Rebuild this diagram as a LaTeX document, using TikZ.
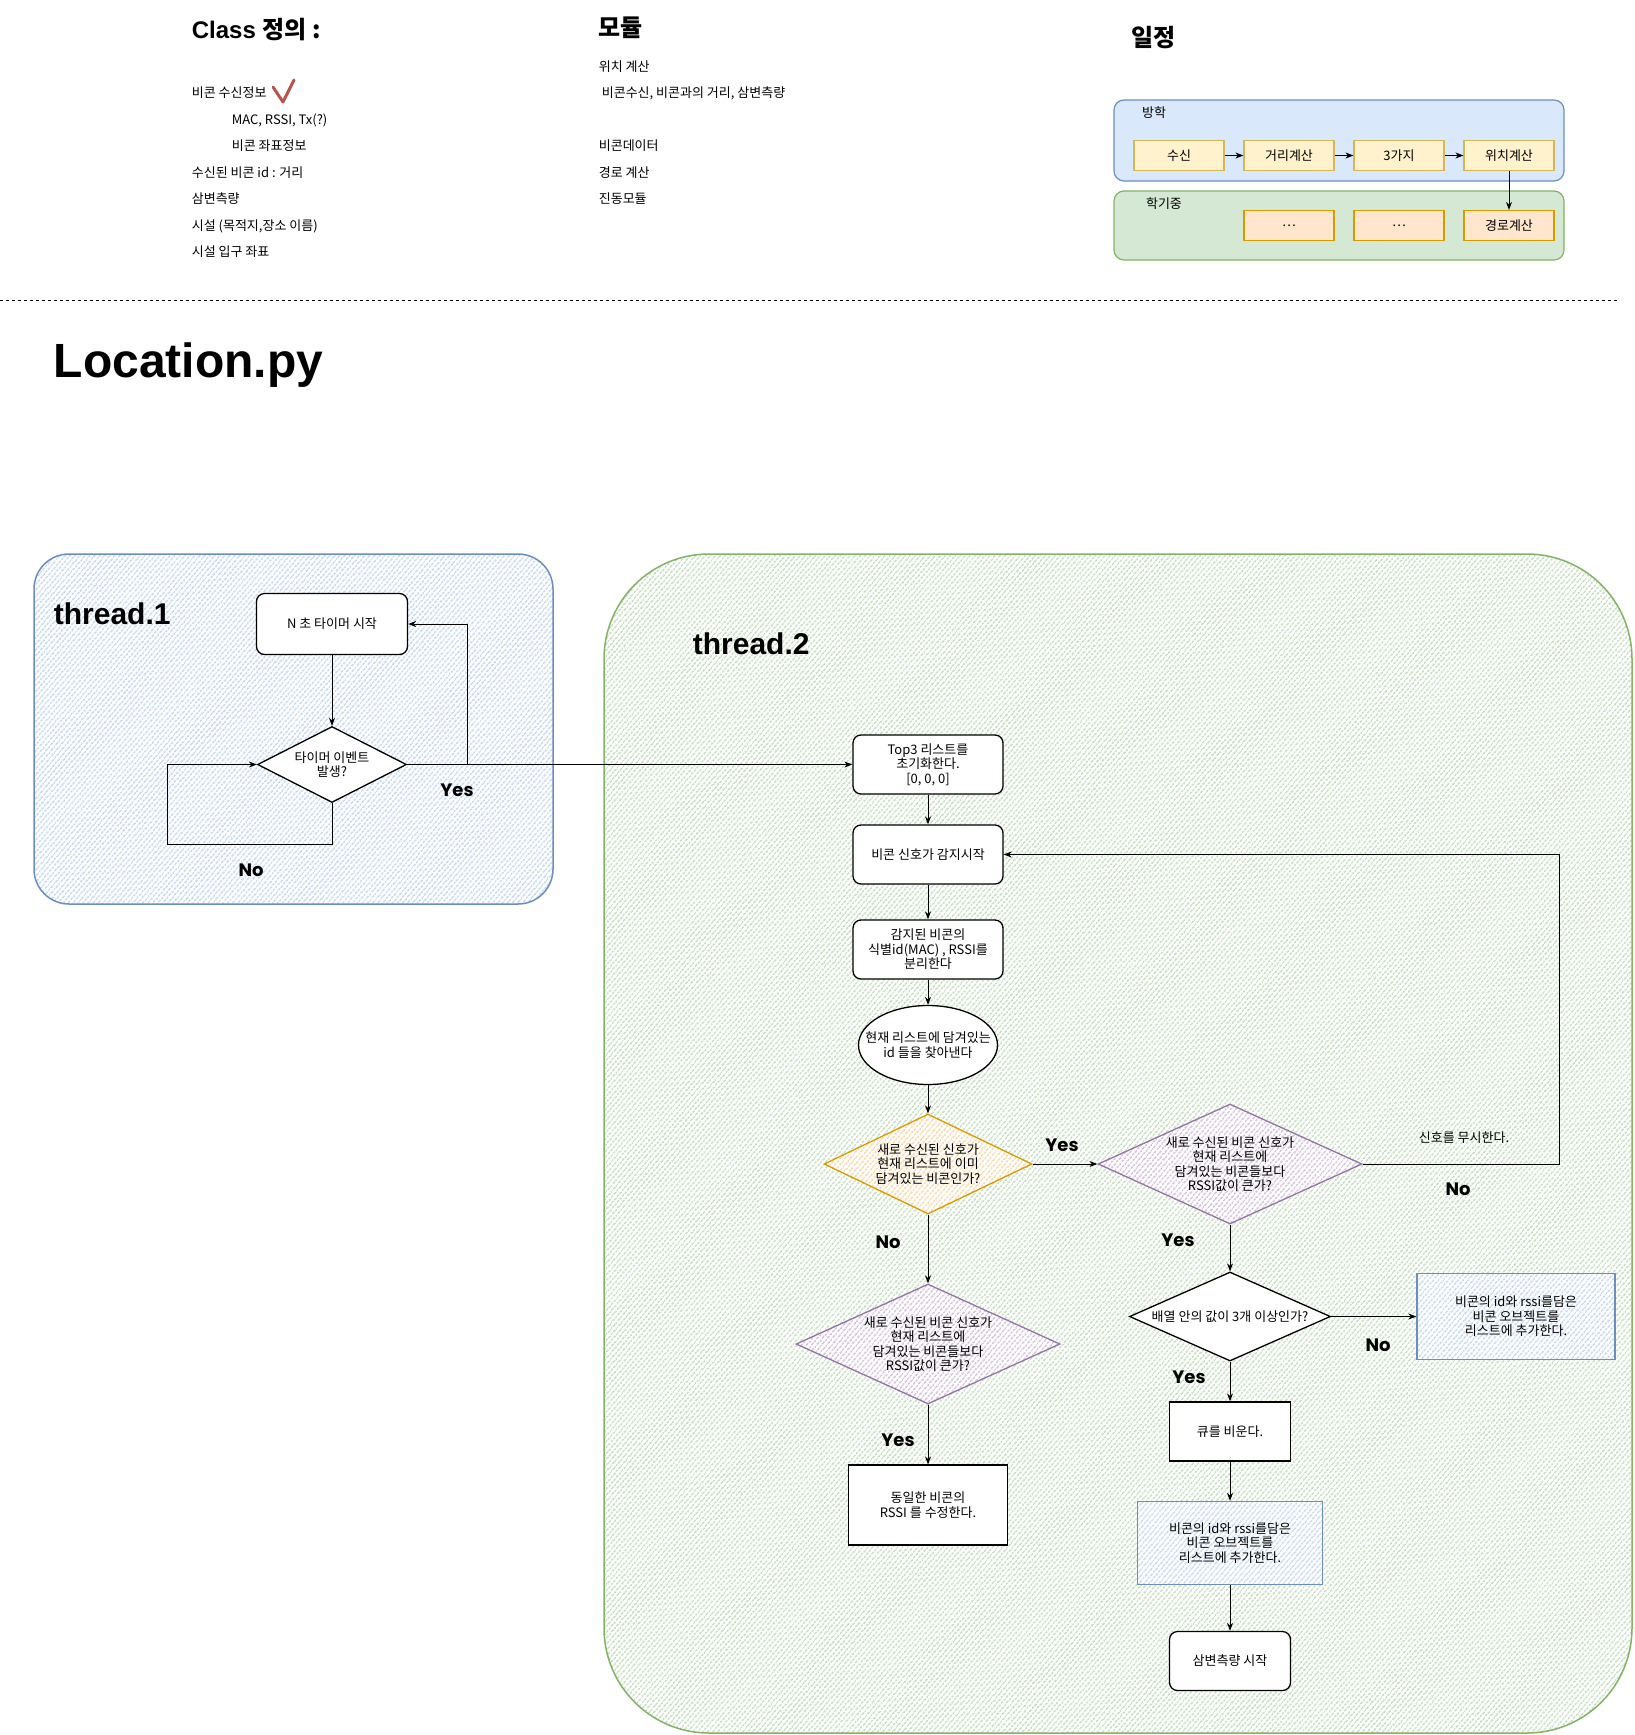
\documentclass[tikz,border=0pt]{standalone}
\usepackage{fontspec}
\setmainfont{Noto Sans CJK KR}
\newfontfamily\arialfont{Liberation Sans}
\newfontfamily\handfont{Poppins}
\usepackage{tikz}
\usetikzlibrary{shapes.geometric, arrows.meta, positioning, patterns.meta}
\definecolor{threadblue}{HTML}{6C8EBF}
\definecolor{threadbluefill}{HTML}{DAE8FC}
\definecolor{threadgreen}{HTML}{82B366}
\definecolor{threadgreenfill}{HTML}{D5E8D4}
\definecolor{askorange}{HTML}{D79B00}
\definecolor{askorangefill}{HTML}{FFE6CC}
\definecolor{askpurple}{HTML}{9673A6}
\definecolor{askpurplefill}{HTML}{E1D5E7}
\definecolor{planyellow}{HTML}{D6B656}
\definecolor{planyellowfill}{HTML}{FFF2CC}
\definecolor{checkred}{HTML}{B85450}
\tikzset{
  hatch/.style={preaction={fill=white}, pattern={Lines[angle=50,distance=4pt,line width=2pt]}, pattern color=#1},
  smalltext/.style={font=\fontsize{13}{14.5}\selectfont, align=center},
  listtext/.style={font=\fontsize{13}{14.5}\selectfont},
  headtext/.style={font=\bfseries\fontsize{24}{28}\selectfont},
  threadtitle/.style={font=\arialfont\bfseries\fontsize{30}{34}\selectfont},
  planbox/.style={draw=planyellow, fill=planyellowfill, line width=1.2pt, minimum width=90pt, minimum height=30pt, smalltext},
  stepbox/.style={draw, line width=1.3pt, rounded corners=8pt, fill=white, minimum width=150pt, minimum height=59pt, smalltext},
  plainbox/.style={draw, line width=1.3pt, fill=white, smalltext},
  askbox/.style={diamond, draw, line width=1.3pt, smalltext, inner sep=0pt},
  yesno/.style={font=\handfont\bfseries\fontsize{18}{20}\selectfont}
}

\begin{document}
\begin{tikzpicture}[x=1pt, y=-1pt, >={Stealth[length=8pt,width=6pt]}, line width=1pt]
  \path[fill=white] (0,0) rectangle (1634,1735);
  \useasboundingbox (0,0) rectangle (1634,1735);

  \begin{scope}
    \node[headtext, anchor=west] (classhead) at (188,30) {{\arialfont Class }정의 :};
    \foreach \n/\x/\y/\t in {beaconinfo/188/93/비콘 수신정보, macinfo/228/120/{MAC, RSSI, Tx(?)}, coordinfo/228/146/비콘 좌표정보, distinfo/188/173/수신된 비콘 id : 거리, trilatinfo/188/199/삼변측량, placeinfo/188/226/{시설 (목적지,장소 이름)}, doorinfo/188/252/시설 입구 좌표} {
      \node[listtext, anchor=west] (\n) at (\x,\y) {\t};
    }
    \draw[checkred, line width=3pt, line cap=round, line join=round] (273,87) -- (283,102) -- (294,80);
    \node[headtext, anchor=west] (modhead) at (595,28) {모듈};
    \foreach \n/\x/\y/\t in {posmod/595/67/위치 계산, recvmod/598/93/{비콘수신, 비콘과의 거리, 삼변측량}, datamod/595/146/비콘데이터, routemod/595/173/경로 계산, vibmod/595/199/진동모듈} {
      \node[listtext, anchor=west] (\n) at (\x,\y) {\t};
    }
  \end{scope}

  \begin{scope}
    \node[headtext, anchor=west] (planhead) at (1128,38) {일정};
    \draw[threadblue, fill=threadbluefill, line width=1.2pt, rounded corners=10pt] (1114,100) rectangle (1564,181);
    \node[listtext] (vacation) at (1154,113) {방학};
    \draw[threadgreen, fill=threadgreenfill, line width=1.2pt, rounded corners=10pt] (1114,191) rectangle (1564,260);
    \node[listtext] (semester) at (1164,204) {학기중};
    \foreach \n/\x/\t in {recv/1179/수신, dist/1289/거리계산, three/1399/3가지, pos/1509/위치계산} {
      \node[planbox] (\n) at (\x,155.5) {\t};
    }
    \foreach \n/\x/\t in {todoa/1289/\ldots, todob/1399/\ldots, route/1509/경로계산} {
      \node[planbox, draw=askorange, fill=askorangefill] (\n) at (\x,225.5) {\t};
    }
    \foreach \a/\b in {recv/dist, dist/three, three/pos, pos/route} {
      \draw[->] (\a) -- (\b);
    }
  \end{scope}

  \draw[dash pattern=on 3pt off 3pt] (0,300) -- (1617,300);
  \node[font=\arialfont\bfseries\fontsize{48}{52}\selectfont, anchor=base west] (loctitle) at (50,377) {Location.py};

  \begin{scope}
    \draw[threadblue, line width=1.5pt, rounded corners=35pt, hatch=threadbluefill!85!threadblue] (34,554) rectangle (553,904);
    \node[threadtitle, anchor=west] (thread1) at (50,614) {thread.1};
    \node[stepbox, minimum width=151pt, minimum height=61pt] (timer) at (332,624) {N 초 타이머 시작};
    \node[askbox, fill=white, aspect=1.96, minimum width=149pt, minimum height=76pt] (tevent) at (332,764.5) {타이머 이벤트\\발생?};
    \coordinate (noturn) at (167,844);
    \coordinate (yesturn) at (467,764.5);
    \draw[->] (timer) -- (tevent);
    \draw[->] (tevent.south) |- (noturn) |- (tevent.west);
    \draw[->] (yesturn) |- (timer.east);
    \node[yesno] (t1yes) at (457,790) {Yes};
    \node[yesno] (t1no) at (251,870) {No};
  \end{scope}

  \begin{scope}
    \draw[threadgreen, line width=1.5pt, rounded corners=105pt, hatch=threadgreenfill!85!threadgreen] (604,554) rectangle (1632,1733);
    \node[threadtitle, anchor=west] (thread2) at (689,644) {thread.2};
    \node[stepbox] (top3) at (928,764.5) {Top3 리스트를\\초기화한다.\\{}[0, 0, 0]};
    \node[stepbox] (beaconstart) at (928,854.5) {비콘 신호가 감지시작};
    \node[stepbox] (splitid) at (928,949.5) {감지된 비콘의\\식별id(MAC) , RSSI를\\분리한다};
    \node[ellipse, draw, line width=1.3pt, fill=white, minimum width=139pt, minimum height=79pt] (findid) at (928,1045) {};
    \node[smalltext] (findidtext) at (findid) {현재 리스트에 담겨있는\\id 들을 찾아낸다};
    \node[askbox, draw=askorange, hatch=askorangefill!85!askorange, aspect=2.08, minimum width=208pt, minimum height=100pt] (inlist) at (928,1164) {새로 수신된 신호가\\현재 리스트에 이미\\담겨있는 비콘인가?};
    \node[askbox, draw=askpurple, hatch=askpurplefill!85!askpurple, aspect=2.2, minimum width=264pt, minimum height=120pt] (strongera) at (1230,1164) {새로 수신된 비콘 신호가\\현재 리스트에\\담겨있는 비콘들보다\\RSSI값이 큰가?};
    \node[askbox, draw=askpurple, hatch=askpurplefill!85!askpurple, aspect=2.2, minimum width=264pt, minimum height=120pt] (strongerb) at (928,1344) {새로 수신된 비콘 신호가\\현재 리스트에\\담겨있는 비콘들보다\\RSSI값이 큰가?};
    \node[plainbox, minimum width=159pt, minimum height=80pt] (fixrssi) at (928,1505) {동일한 비콘의\\RSSI 를 수정한다.};
    \node[askbox, fill=white, aspect=2.26, minimum width=201pt, minimum height=89pt] (enough) at (1230,1316.5) {배열 안의 값이 3개 이상인가?};
    \node[plainbox, draw=threadblue, hatch=threadbluefill!85!threadblue, minimum width=198pt, minimum height=86pt] (addobja) at (1516,1316.5) {비콘의 id와 rssi를담은\\비콘 오브젝트를\\리스트에 추가한다.};
    \node[plainbox, minimum width=121pt, minimum height=59pt] (clearq) at (1230,1431.5) {큐를 비운다.};
    \node[plainbox, draw=threadblue, hatch=threadbluefill!85!threadblue, minimum width=185pt, minimum height=83pt] (addobjb) at (1230,1543) {비콘의 id와 rssi를담은\\비콘 오브젝트를\\리스트에 추가한다.};
    \node[stepbox, minimum width=121pt] (trilat) at (1230,1661) {삼변측량 시작};
    \coordinate (ignoreturn) at (1559,1164);
    \draw[->] (tevent.east) -- (top3.west);
    \draw[->] (top3) -- (beaconstart);
    \draw[->] (beaconstart) -- (splitid);
    \draw[->] (splitid) -- (findid);
    \draw[->] (findid) -- (inlist);
    \draw[->] (inlist.east) -- (strongera.west);
    \draw[->] (inlist.south) -- (strongerb.north);
    \draw[->] (strongerb.south) -- (fixrssi.north);
    \draw[->] (strongera.south) -- (enough.north);
    \draw[->] (strongera.east) -- (ignoreturn) |- (beaconstart.east);
    \draw[->] (enough.east) -- (addobja.west);
    \draw[->] (enough.south) -- (clearq.north);
    \draw[->] (clearq) -- (addobjb);
    \draw[->] (addobjb) -- (trilat);
    \node[listtext] (ignoretext) at (1464,1138) {신호를 무시한다.};
    \node[yesno] (inlistyes) at (1062,1145) {Yes};
    \node[yesno] (inlistno) at (888,1242) {No};
    \node[yesno] (strongbyes) at (898,1440) {Yes};
    \node[yesno] (strongayes) at (1178,1240) {Yes};
    \node[yesno] (strongano) at (1458,1189) {No};
    \node[yesno] (enoughno) at (1378,1345) {No};
    \node[yesno] (enoughyes) at (1189,1377) {Yes};
  \end{scope}
\end{tikzpicture}
\end{document}
